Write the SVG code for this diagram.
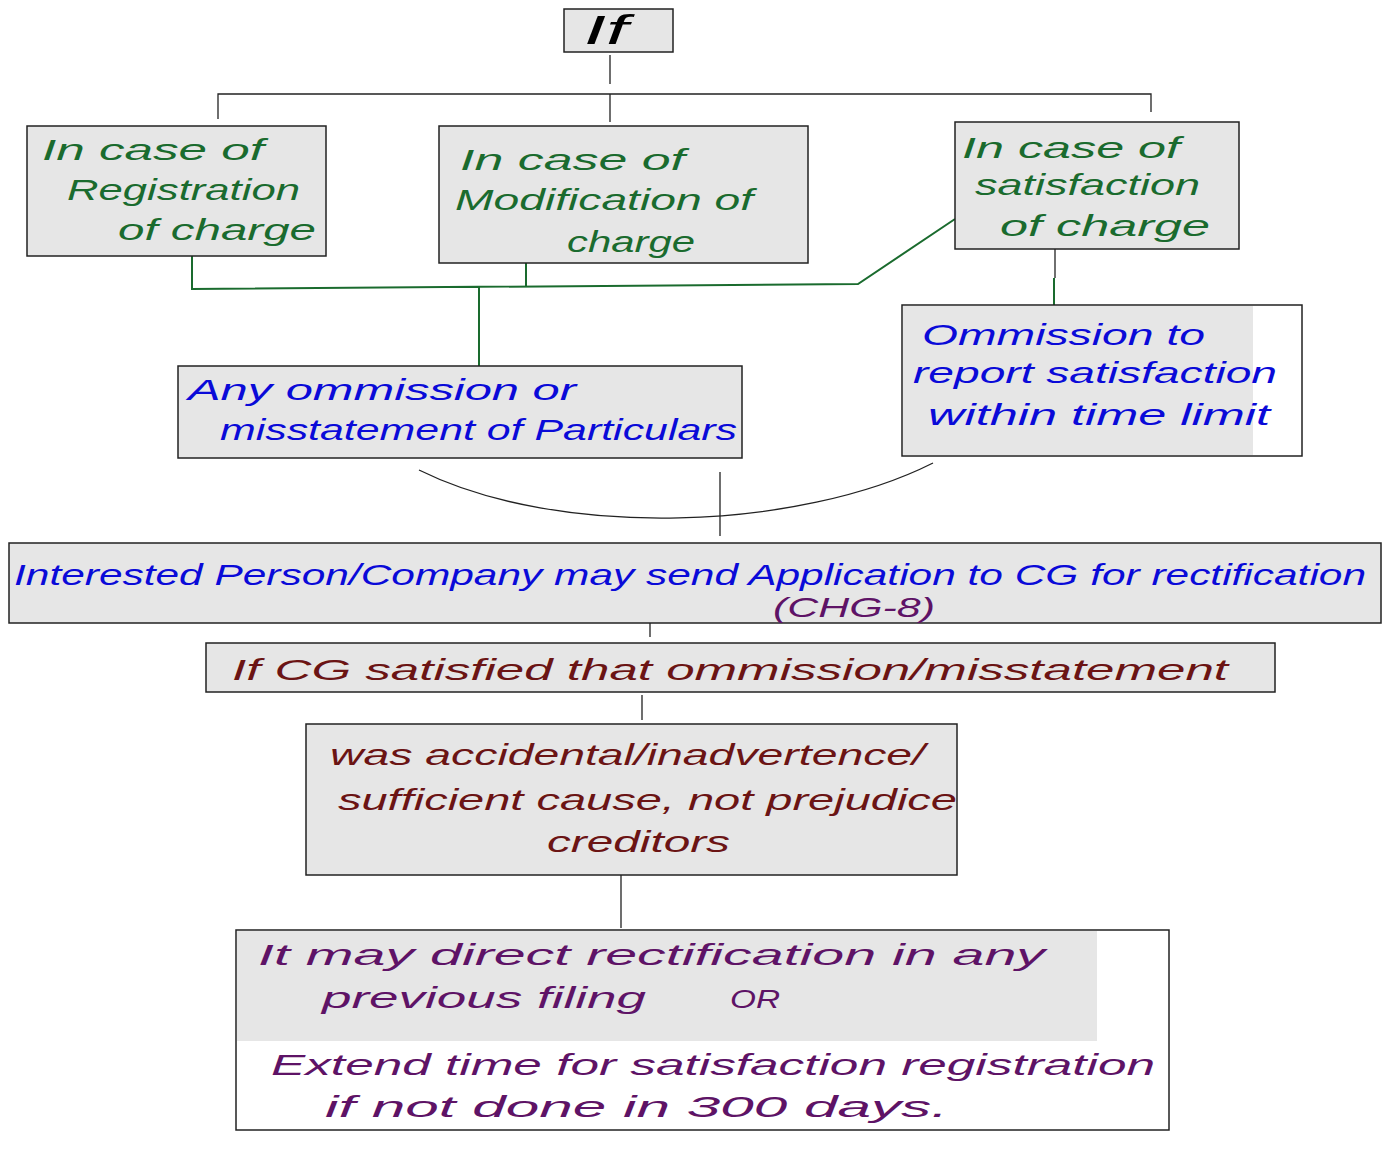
<svg xmlns="http://www.w3.org/2000/svg" width="1392" height="1158" viewBox="0 0 1392 1158">
<style>
.box{fill:#e6e6e6;stroke:#222;stroke-width:1.5}
.wbox{fill:#fff;stroke:#222;stroke-width:1.5}
.t{font-family:"Liberation Sans",Arial,sans-serif;font-style:italic;font-size:30px}
.g{fill:#1a6b2e}.b{fill:#0a0ad8}.r{fill:#6b1414}.p{fill:#5e1366}.k{fill:#000}
.ck{stroke:#222;stroke-width:1.3;fill:none}
.cg{stroke:#1a6b2e;stroke-width:2;fill:none}
</style>
<rect width="1392" height="1158" fill="#fff"/>
<g id="connectors">
<path class="ck" d="M610,55V84M218,119V94H1151V112M610,94V122"/>
<path class="cg" d="M192,256V289L858,284L955,219M526,263V286M479,286V366"/>
<path class="ck" d="M1055,249V278"/>
<path class="cg" d="M1054,278V305"/>
<path class="ck" d="M419,470C560,540 800,530 933,463"/>
<path class="ck" d="M720,472V536M650,608V637M642,695V720M621,875V928"/>
</g>
<g id="n-if">
<rect class="box" x="564" y="9" width="109" height="43"/>
<text class="t k" x="584" y="44" style="font-size:40px" textLength="44" lengthAdjust="spacingAndGlyphs">If</text>
</g>
<g id="n-reg">
<rect class="box" x="27" y="126" width="299" height="130"/>
<text class="t g" x="42" y="160" textLength="222" lengthAdjust="spacingAndGlyphs">In case of</text>
<text class="t g" x="67" y="200" textLength="233" lengthAdjust="spacingAndGlyphs">Registration</text>
<text class="t g" x="118" y="240" textLength="198" lengthAdjust="spacingAndGlyphs">of charge</text>
</g>
<g id="n-mod">
<rect class="box" x="439" y="126" width="369" height="137"/>
<text class="t g" x="460" y="170" textLength="225" lengthAdjust="spacingAndGlyphs">In case of</text>
<text class="t g" x="455" y="210" textLength="298" lengthAdjust="spacingAndGlyphs">Modification of</text>
<text class="t g" x="567" y="252" textLength="128" lengthAdjust="spacingAndGlyphs">charge</text>
</g>
<g id="n-sat">
<rect class="box" x="955" y="122" width="284" height="127"/>
<text class="t g" x="962" y="158" textLength="218" lengthAdjust="spacingAndGlyphs">In case of</text>
<text class="t g" x="975" y="195" textLength="225" lengthAdjust="spacingAndGlyphs">satisfaction</text>
<text class="t g" x="1000" y="236" textLength="210" lengthAdjust="spacingAndGlyphs">of charge</text>
</g>
<g id="n-any">
<rect class="box" x="178" y="366" width="564" height="92"/>
<text class="t b" x="188" y="400" textLength="388" lengthAdjust="spacingAndGlyphs">Any ommission or</text>
<text class="t b" x="220" y="440" textLength="517" lengthAdjust="spacingAndGlyphs">misstatement of Particulars</text>
</g>
<g id="n-omm">
<rect class="wbox" x="902" y="305" width="400" height="151"/>
<rect x="903" y="306" width="350" height="149" fill="#e6e6e6"/>
<text class="t b" x="922" y="345" textLength="283" lengthAdjust="spacingAndGlyphs">Ommission to</text>
<text class="t b" x="913" y="383" textLength="364" lengthAdjust="spacingAndGlyphs">report satisfaction</text>
<text class="t b" x="928" y="425" textLength="342" lengthAdjust="spacingAndGlyphs">within time limit</text>
</g>
<g id="n-app">
<rect class="box" x="9" y="543" width="1372" height="80"/>
<text class="t b" x="14" y="585" textLength="1352" lengthAdjust="spacingAndGlyphs">Interested Person/Company may send Application to CG for rectification</text>
<text class="t p" x="773" y="617" style="font-size:28px" textLength="162" lengthAdjust="spacingAndGlyphs">(CHG-8)</text>
</g>
<g id="n-cg">
<rect class="box" x="206" y="643" width="1069" height="49"/>
<text class="t r" x="232" y="680" textLength="996" lengthAdjust="spacingAndGlyphs">If CG satisfied that ommission/misstatement</text>
</g>
<g id="n-acc">
<rect class="box" x="306" y="724" width="651" height="151"/>
<text class="t r" x="330" y="765" textLength="595" lengthAdjust="spacingAndGlyphs">was accidental/inadvertence/</text>
<text class="t r" x="338" y="810" textLength="619" lengthAdjust="spacingAndGlyphs">sufficient cause, not prejudice</text>
<text class="t r" x="547" y="852" textLength="183" lengthAdjust="spacingAndGlyphs">creditors</text>
</g>
<g id="n-dir">
<rect class="wbox" x="236" y="930" width="933" height="200"/>
<rect x="237" y="931" width="860" height="110" fill="#e6e6e6"/>
<text class="t p" x="258" y="965" textLength="787" lengthAdjust="spacingAndGlyphs">It may direct rectification in any</text>
<text class="t p" x="322" y="1008" textLength="324" lengthAdjust="spacingAndGlyphs">previous filing</text>
<text class="t p" x="730" y="1008" style="font-size:26px" textLength="50" lengthAdjust="spacingAndGlyphs">OR</text>
<text class="t p" x="271" y="1075" textLength="884" lengthAdjust="spacingAndGlyphs">Extend time for satisfaction registration</text>
<text class="t p" x="325" y="1117" textLength="623" lengthAdjust="spacingAndGlyphs">if not done in 300 days.</text>
</g>
</svg>
